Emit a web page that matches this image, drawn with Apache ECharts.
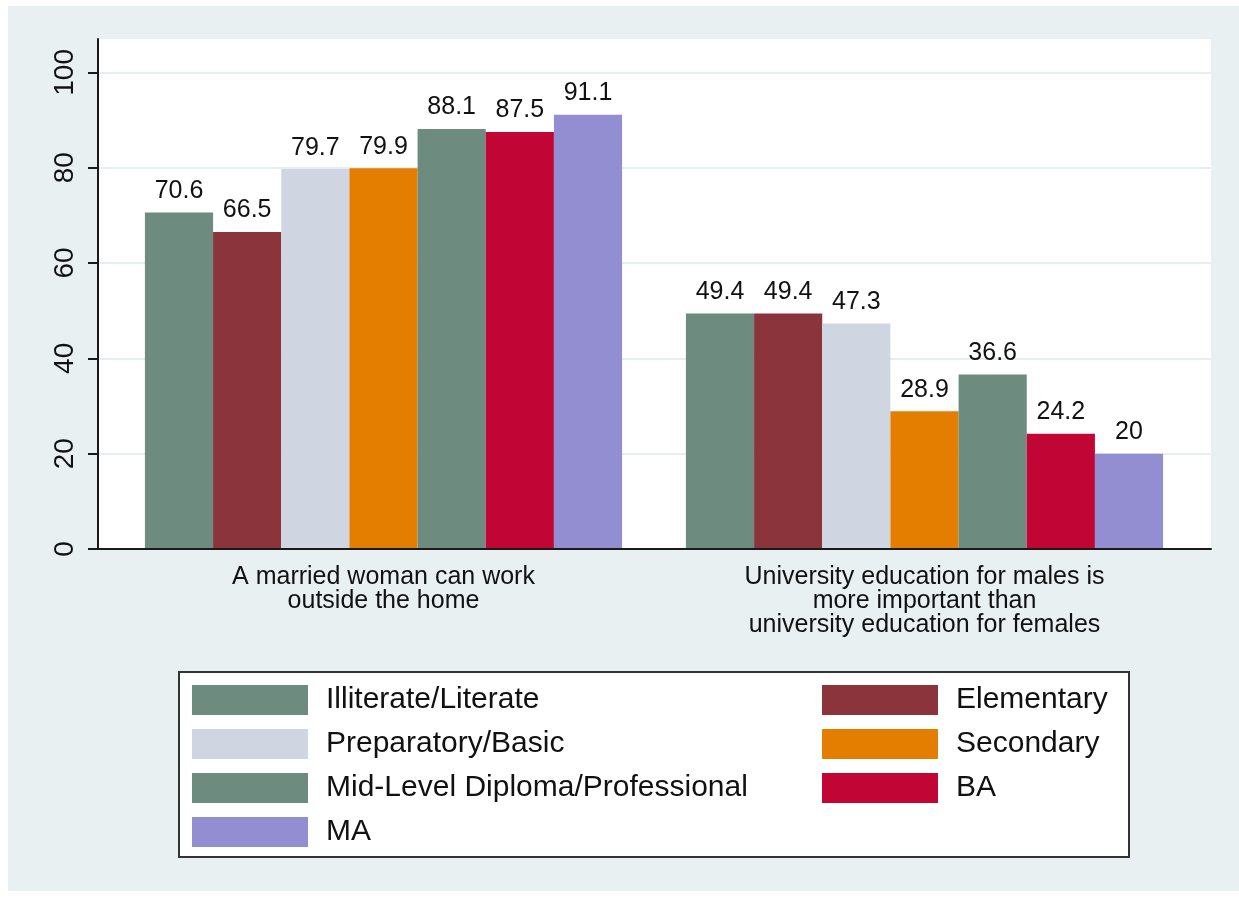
<!DOCTYPE html>
<html>
<head>
<meta charset="utf-8">
<script src="https://cdn.jsdelivr.net/npm/echarts@6/dist/echarts.min.js"></script>
<style>
  html, body { margin: 0; padding: 0; background: #fff; }
  #chart { width: 1239px; height: 897px; }
</style>
</head>
<body>
<div id="chart"></div>
<script>
// data
const categories = [
  'A married woman can work\noutside the home',
  'University education for males is\nmore important than\nuniversity education for females'
]
const levels = [
  'Illiterate/Literate',
  'Elementary',
  'Preparatory/Basic',
  'Secondary',
  'Mid-Level Diploma/Professional',
  'BA',
  'MA'
]
const illiterate = [70.6, 49.4]
const elementary = [66.5, 49.4]
const preparatory = [79.7, 47.3]
const secondary = [79.9, 28.9]
const midLevel = [88.1, 36.6]
const ba = [87.5, 24.2]
const ma = [91.1, 20]
const yTicks = [0, 20, 40, 60, 80, 100]

const values = [illiterate, elementary, preparatory, secondary, midLevel, ba, ma]
const colors = ['#6D8B7F', '#8B343C', '#D0D6E1', '#E37E00', '#6D8B7F', '#C10534', '#938DD2']

const font = '"Liberation Sans", Arial, sans-serif'
const ink = '#111'

const series = levels.map((name, i) => ({
  name: name,
  type: 'bar',
  xAxisIndex: 1,
  yAxisIndex: 1,
  barGap: '0%',
  barCategoryGap: '11.8%',
  z: 3,
  itemStyle: { color: colors[i] },
  label: {
    show: true,
    position: 'top',
    distance: 9,
    color: ink,
    fontSize: 25,
    fontFamily: font
  },
  data: values[i]
}))

const legendCommon = {
  orient: 'vertical',
  top: 685,
  padding: 0,
  itemWidth: 116,
  itemHeight: 30,
  itemGap: 14,
  icon: 'rect',
  selectedMode: false,
  z: 10,
  textStyle: {
    color: ink,
    fontSize: 30,
    lineHeight: 30,
    fontFamily: font,
    padding: [0, 0, 0, 13]
  }
}

const option = {
  backgroundColor: '#fff',
  animation: false,
  color: colors,
  graphic: [
    {
      type: 'rect',
      z: -10,
      silent: true,
      shape: { x: 8, y: 6, width: 1231, height: 885 },
      style: { fill: '#E8F0F2' }
    },
    {
      type: 'rect',
      z: 1,
      silent: true,
      shape: { x: 179, y: 672, width: 950, height: 185 },
      style: { fill: '#fff', stroke: '#333', lineWidth: 2 }
    }
  ],
  legend: [
    Object.assign({}, legendCommon, {
      left: 192,
      data: [levels[0], levels[2], levels[4], levels[6]]
    }),
    Object.assign({}, legendCommon, {
      left: 822,
      data: [levels[1], levels[3], levels[5]]
    })
  ],
  grid: [
    {
      left: 98, right: 28, top: 39, bottom: 348,
      show: true, backgroundColor: '#fff', borderWidth: 0,
      outerBoundsMode: 'none'
    },
    {
      left: 113, width: 1082, top: 39, bottom: 348,
      outerBoundsMode: 'none'
    }
  ],
  xAxis: [
    {
      gridIndex: 0,
      type: 'value',
      min: 0,
      max: 1,
      z: 5,
      axisLine: { show: true, lineStyle: { color: '#1a1a1a', width: 2 } },
      axisTick: { show: false },
      axisLabel: { show: false },
      splitLine: { show: false }
    },
    {
      gridIndex: 1,
      type: 'category',
      data: categories,
      axisLine: { show: false },
      axisTick: { show: false },
      axisLabel: {
        color: ink,
        fontSize: 25,
        lineHeight: 24,
        margin: 16,
        fontFamily: font
      }
    }
  ],
  yAxis: [
    {
      gridIndex: 0,
      type: 'value',
      min: 0,
      max: 107,
      z: 0,
      axisLine: { show: true, lineStyle: { color: '#1a1a1a', width: 2 } },
      axisTick: {
        show: true,
        length: 10,
        customValues: yTicks,
        lineStyle: { color: '#1a1a1a', width: 2 }
      },
      axisLabel: {
        customValues: yTicks,
        rotate: 90,
        margin: 19,
        color: ink,
        fontSize: 28,
        fontFamily: font
      },
      splitLine: { show: true, lineStyle: { color: '#E6EEF1', width: 2 } }
    },
    {
      gridIndex: 1,
      type: 'value',
      min: 0,
      max: 107,
      show: false
    }
  ],
  series: series
}

const chartObj = echarts.init(document.getElementById('chart'))
chartObj.setOption(option)
</script>
</body>
</html>
